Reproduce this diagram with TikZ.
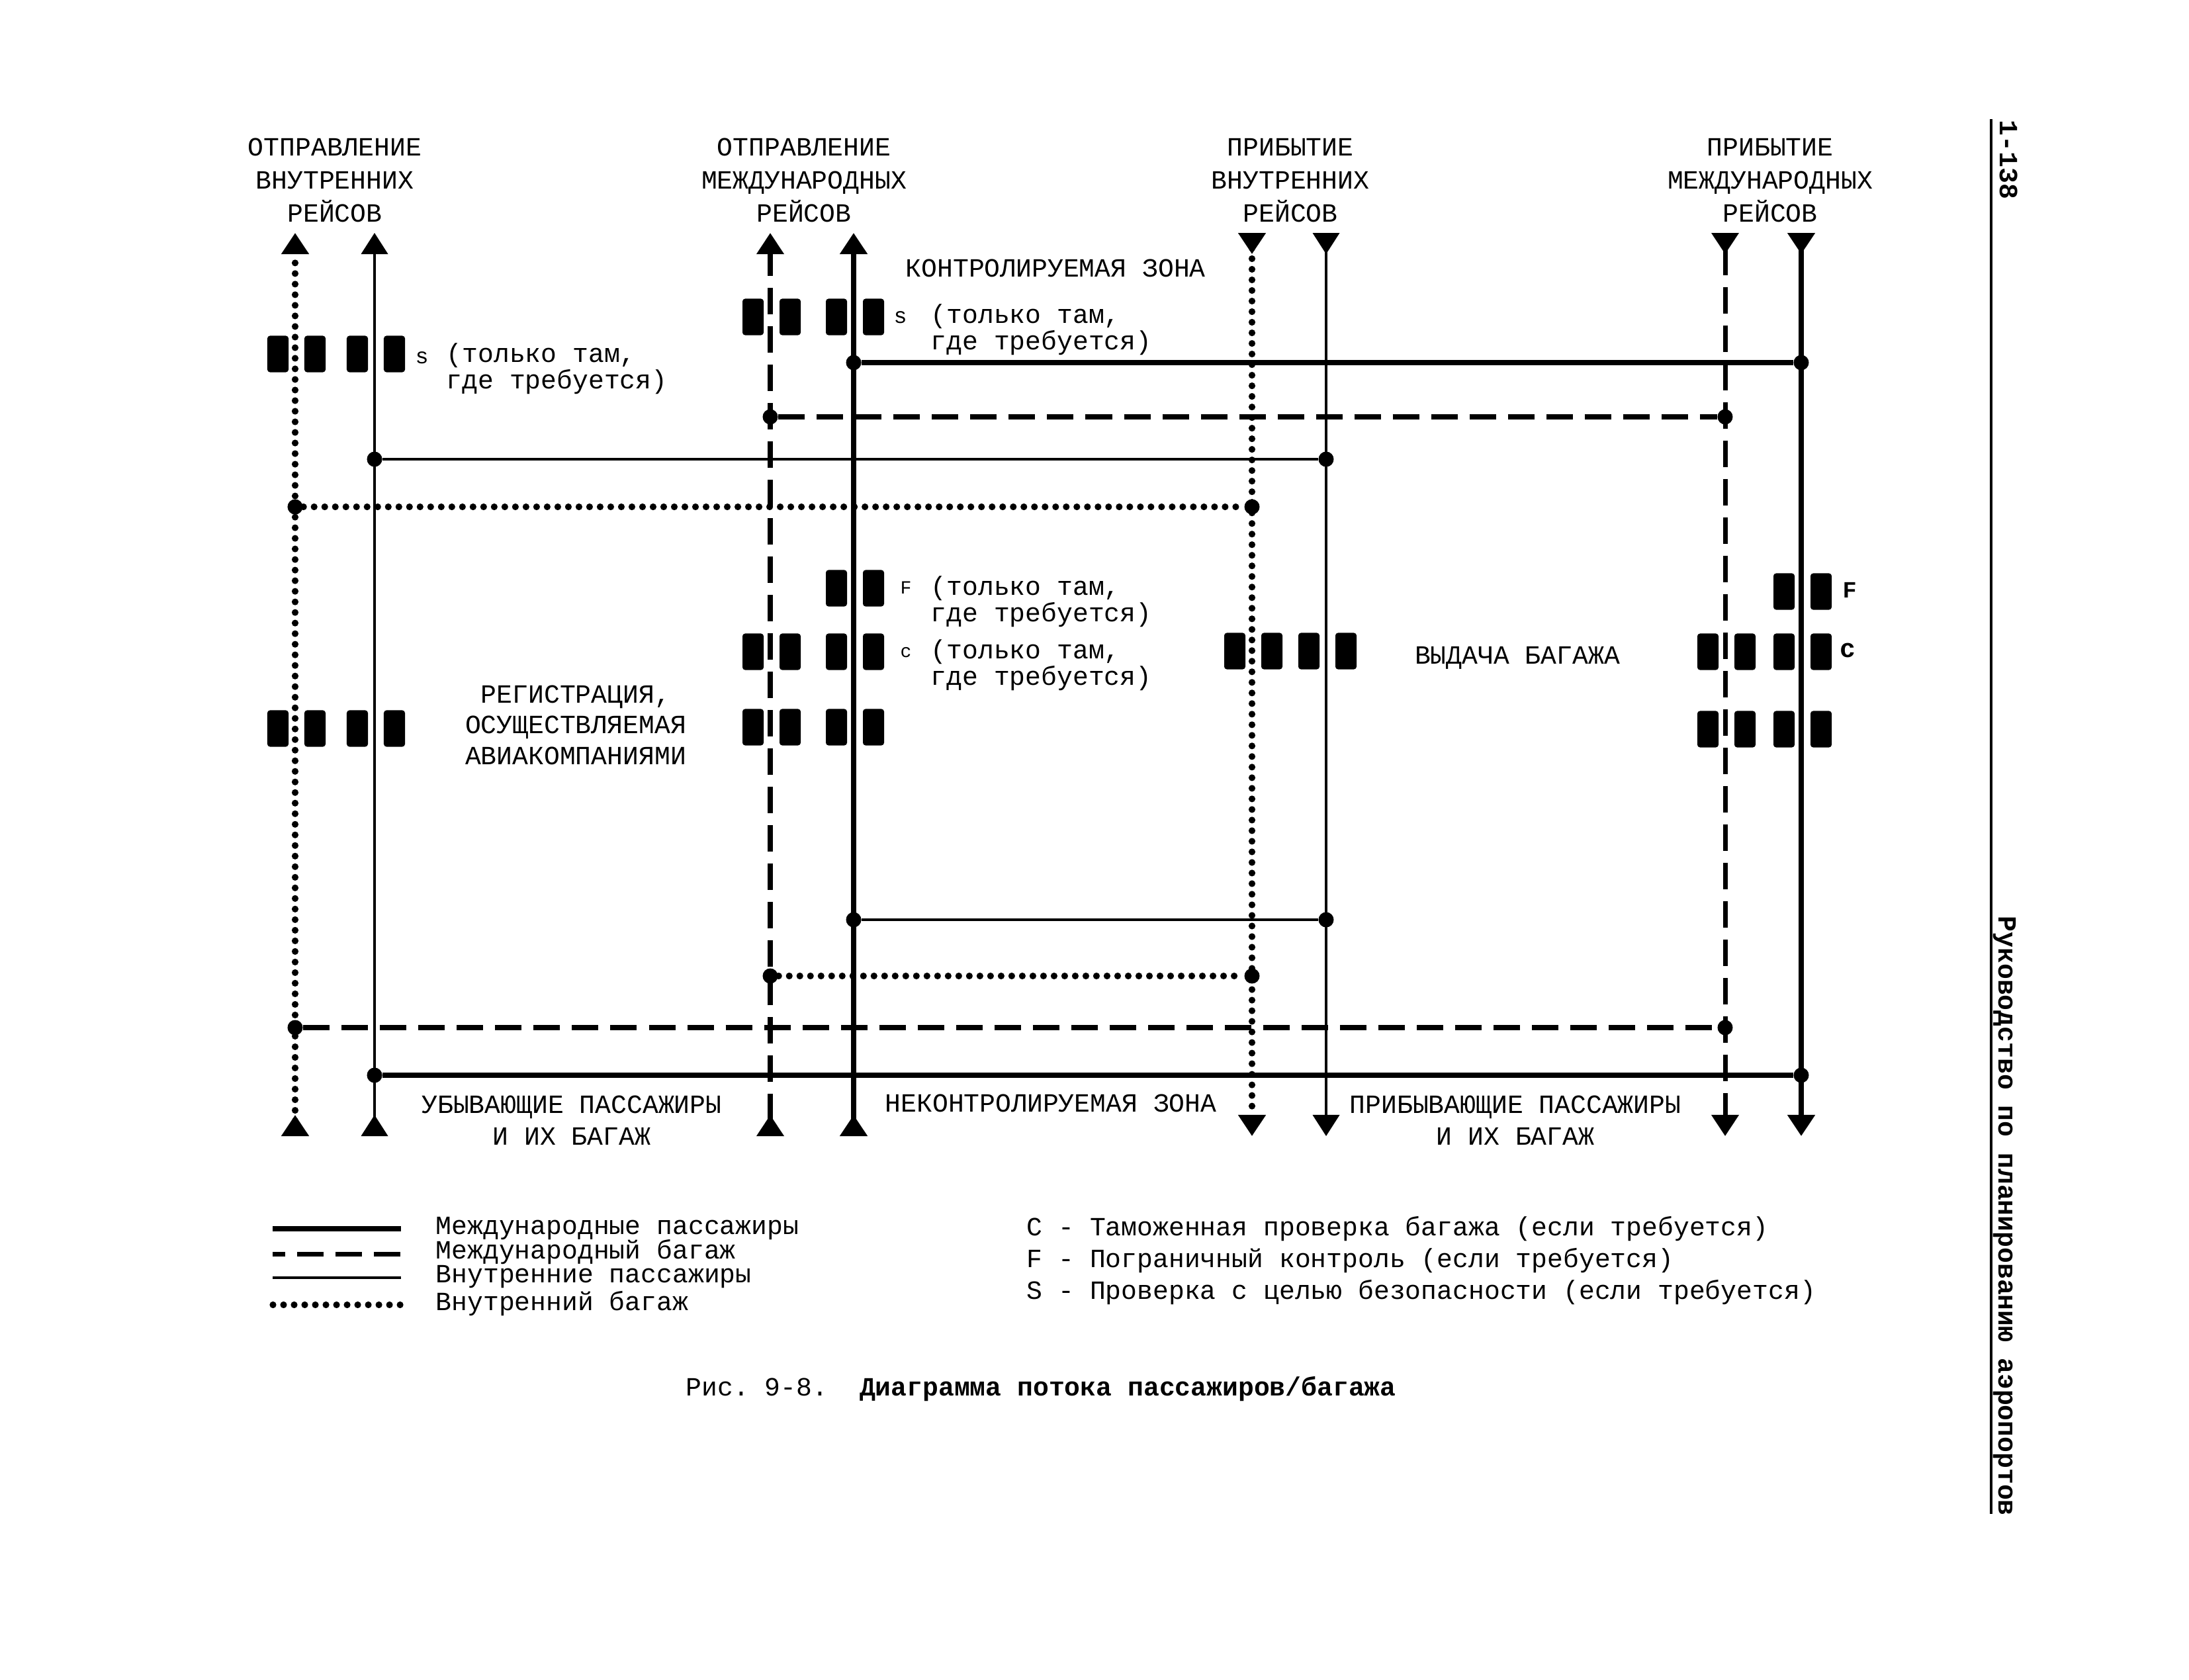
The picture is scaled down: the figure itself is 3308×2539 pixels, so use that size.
\documentclass[tikz,border=0pt]{standalone}
\usepackage{fontspec}
\setmainfont{Liberation Mono}
\usetikzlibrary{arrows.meta}
\frenchspacing
\tikzset{
  intpax/.style={line width=2.4pt},
  intbag/.style={line width=2pt, dash pattern=on 0.40cm off 0.18cm},
  dompax/.style={line width=1.1pt},
  dombag/.style={line width=2.6pt, line cap=round, dash pattern=on 0.01cm off 0.15cm},
  flow/.style={{Triangle[reversed, length=0.32cm, width=0.40cm]}-{Triangle[length=0.32cm, width=0.40cm]}},
  jn/.style={circle, fill=black, inner sep=0pt, minimum size=0.23cm},
  desk/.style={fill=black, rounded corners=0.04cm, inner sep=0pt, minimum width=0.32cm, minimum height=0.55cm},
  txt/.style={inner sep=0pt, anchor=base west, font=\fontsize{11.3}{11.1}\selectfont},
  hdr/.style={inner sep=0pt, anchor=base, align=center, font=\fontsize{11.3}{14.2}\selectfont},
  note/.style={txt, align=left},
  tag/.style={inner sep=0pt, anchor=base west, font=\fontsize{8}{8}\selectfont},
}
\begin{document}
\begin{tikzpicture}[x=0.01cm, y=-0.01cm]
  \useasboundingbox (0,0) rectangle (3308,2539);
  % column headings (placed at the last line)
  \node[hdr] (h-dd) at (506,335) {ОТПРАВЛЕНИЕ\\ВНУТРЕННИХ\\РЕЙСОВ};
  \node[hdr] (h-di) at (1215,335) {ОТПРАВЛЕНИЕ\\МЕЖДУНАРОДНЫХ\\РЕЙСОВ};
  \node[hdr] (h-ad) at (1950,335) {ПРИБЫТИЕ\\ВНУТРЕННИХ\\РЕЙСОВ};
  \node[hdr] (h-ai) at (2675,335) {ПРИБЫТИЕ\\МЕЖДУНАРОДНЫХ\\РЕЙСОВ};
  % flow lines: departures run up, arrivals run down
  \foreach \n/\x/\s in {ddb/446/dombag, ddp/566/dompax, dib/1164/intbag, dip/1290/intpax} {
    \coordinate (\n-top) at (\x,352);
    \coordinate (\n-bot) at (\x,1717);
    \draw[\s, flow] (\n-bot) -- (\n-top);
  }
  \foreach \n/\x/\s in {adb/1892/dombag, adp/2004/dompax, aib/2607/intbag, aip/2722/intpax} {
    \coordinate (\n-top) at (\x,352);
    \coordinate (\n-bot) at (\x,1717);
    \draw[\s, flow] (\n-top) -- (\n-bot);
  }
  % transfers between the lines
  \foreach \i/\s/\a/\b/\y in {1/intpax/dip/aip/548, 2/intbag/dib/aib/630, 3/dompax/ddp/adp/694,
      4/dombag/ddb/adb/766, 5/dompax/dip/adp/1390, 6/dombag/dib/adb/1475,
      7/intbag/ddb/aib/1553, 8/intpax/ddp/aip/1625} {
    \node[jn] (t\i-w) at (\a-top |- 0,\y) {};
    \node[jn] (t\i-e) at (\b-top |- 0,\y) {};
    \draw[\s] (t\i-w) -- (t\i-e);
  }
  % desks: check-in, s, F, c and baggage claim
  \foreach \x/\y [count=\k] in {446/535, 566/535, 1164/479, 1290/479, 1290/889,
      1164/985, 1290/985, 446/1101, 566/1101, 1164/1099, 1290/1099,
      1892/984, 2004/984, 2722/894, 2607/985, 2722/985, 2607/1102, 2722/1102} {
    \node[desk] (dk\k-l) at (\x-26,\y) {};
    \node[desk] (dk\k-r) at (\x+30,\y) {};
  }
  \node[txt] (zone-in) at (1368,418) {КОНТРОЛИРУЕМАЯ ЗОНА};
  \node[tag, font=\fontsize{9.5}{9}\selectfont] (s-dd) at (627,549) {s};
  \node[note] (n-sdd) at (674,587) {(только там,\\где требуется)};
  \node[tag, font=\fontsize{9.5}{9}\selectfont] (s-di) at (1350,488) {s};
  \node[note] (n-sdi) at (1406,528) {(только там,\\где требуется)};
  \node[tag] (f-di) at (1360,897) {F};
  \node[note] (n-fdi) at (1406,939) {(только там,\\где требуется)};
  \node[tag] (c-di) at (1360,993) {c};
  \node[note] (n-cdi) at (1406,1035) {(только там,\\где требуется)};
  \node[tag, font=\fontsize{10}{10}\selectfont\bfseries] (f-ai) at (2784,903) {F};
  \node[tag, font=\fontsize{11.3}{11}\selectfont\bfseries] (c-ai) at (2780,993) {c};
  \node[hdr, font=\fontsize{11.3}{13.1}\selectfont] (checkin) at (870,1155) {РЕГИСТРАЦИЯ,\\ОСУЩЕСТВЛЯЕМАЯ\\АВИАКОМПАНИЯМИ};
  \node[txt, anchor=base] (claim) at (2293,1003) {ВЫДАЧА БАГАЖА};
  \node[hdr, font=\fontsize{11.3}{13.6}\selectfont] (dep) at (864,1730) {УБЫВАЮЩИЕ ПАССАЖИРЫ\\И ИХ БАГАЖ};
  \node[txt] (zone-out) at (1337,1680) {НЕКОНТРОЛИРУЕМАЯ ЗОНА};
  \node[hdr, font=\fontsize{11.3}{13.6}\selectfont] (arr) at (2290,1730) {ПРИБЫВАЮЩИЕ ПАССАЖИРЫ\\И ИХ БАГАЖ};
  % legend
  \foreach \i/\y in {1/1857, 2/1895, 3/1931, 4/1972} {
    \coordinate (lg\i-w) at (412,\y);
    \coordinate (lg\i-e) at (606,\y);
  }
  \draw[intpax] (lg1-w) -- (lg1-e);
  \draw[intbag, dash phase=0.21cm] (lg2-w) -- (lg2-e);
  \draw[dompax] (lg3-w) -- (lg3-e);
  \draw[dombag] (lg4-w) -- (lg4-e);
  \node[txt] (lg1) at (658,1865) {Международные пассажиры};
  \node[txt] (lg2) at (658,1902) {Международный багаж};
  \node[txt] (lg3) at (658,1938) {Внутренние пассажиры};
  \node[txt] (lg4) at (658,1980) {Внутренний багаж};
  \node[note, font=\fontsize{11.3}{13.6}\selectfont] (key) at (1551,1963) {C - Таможенная проверка багажа (если требуется)\\F - Пограничный контроль (если требуется)\\S - Проверка с целью безопасности (если требуется)};
  % caption and page margin
  \node[txt] (caption) at (1036,2109) {Рис. 9-8.\ \ \textbf{Диаграмма потока пассажиров/багажа}};
  \coordinate (rule-top) at (3009,180);
  \coordinate (rule-bot) at (3009,2288);
  \draw[line width=1.4pt] (rule-top) -- (rule-bot);
  \node[txt, rotate=-90, font=\fontsize{11.3}{12}\selectfont\bfseries] (page) at (3022,181) {1-138};
  \node[txt, rotate=-90, font=\fontsize{11.3}{12}\selectfont\bfseries] (book) at (3020,1384) {Руководство по планированию аэропортов};
\end{tikzpicture}
\end{document}
